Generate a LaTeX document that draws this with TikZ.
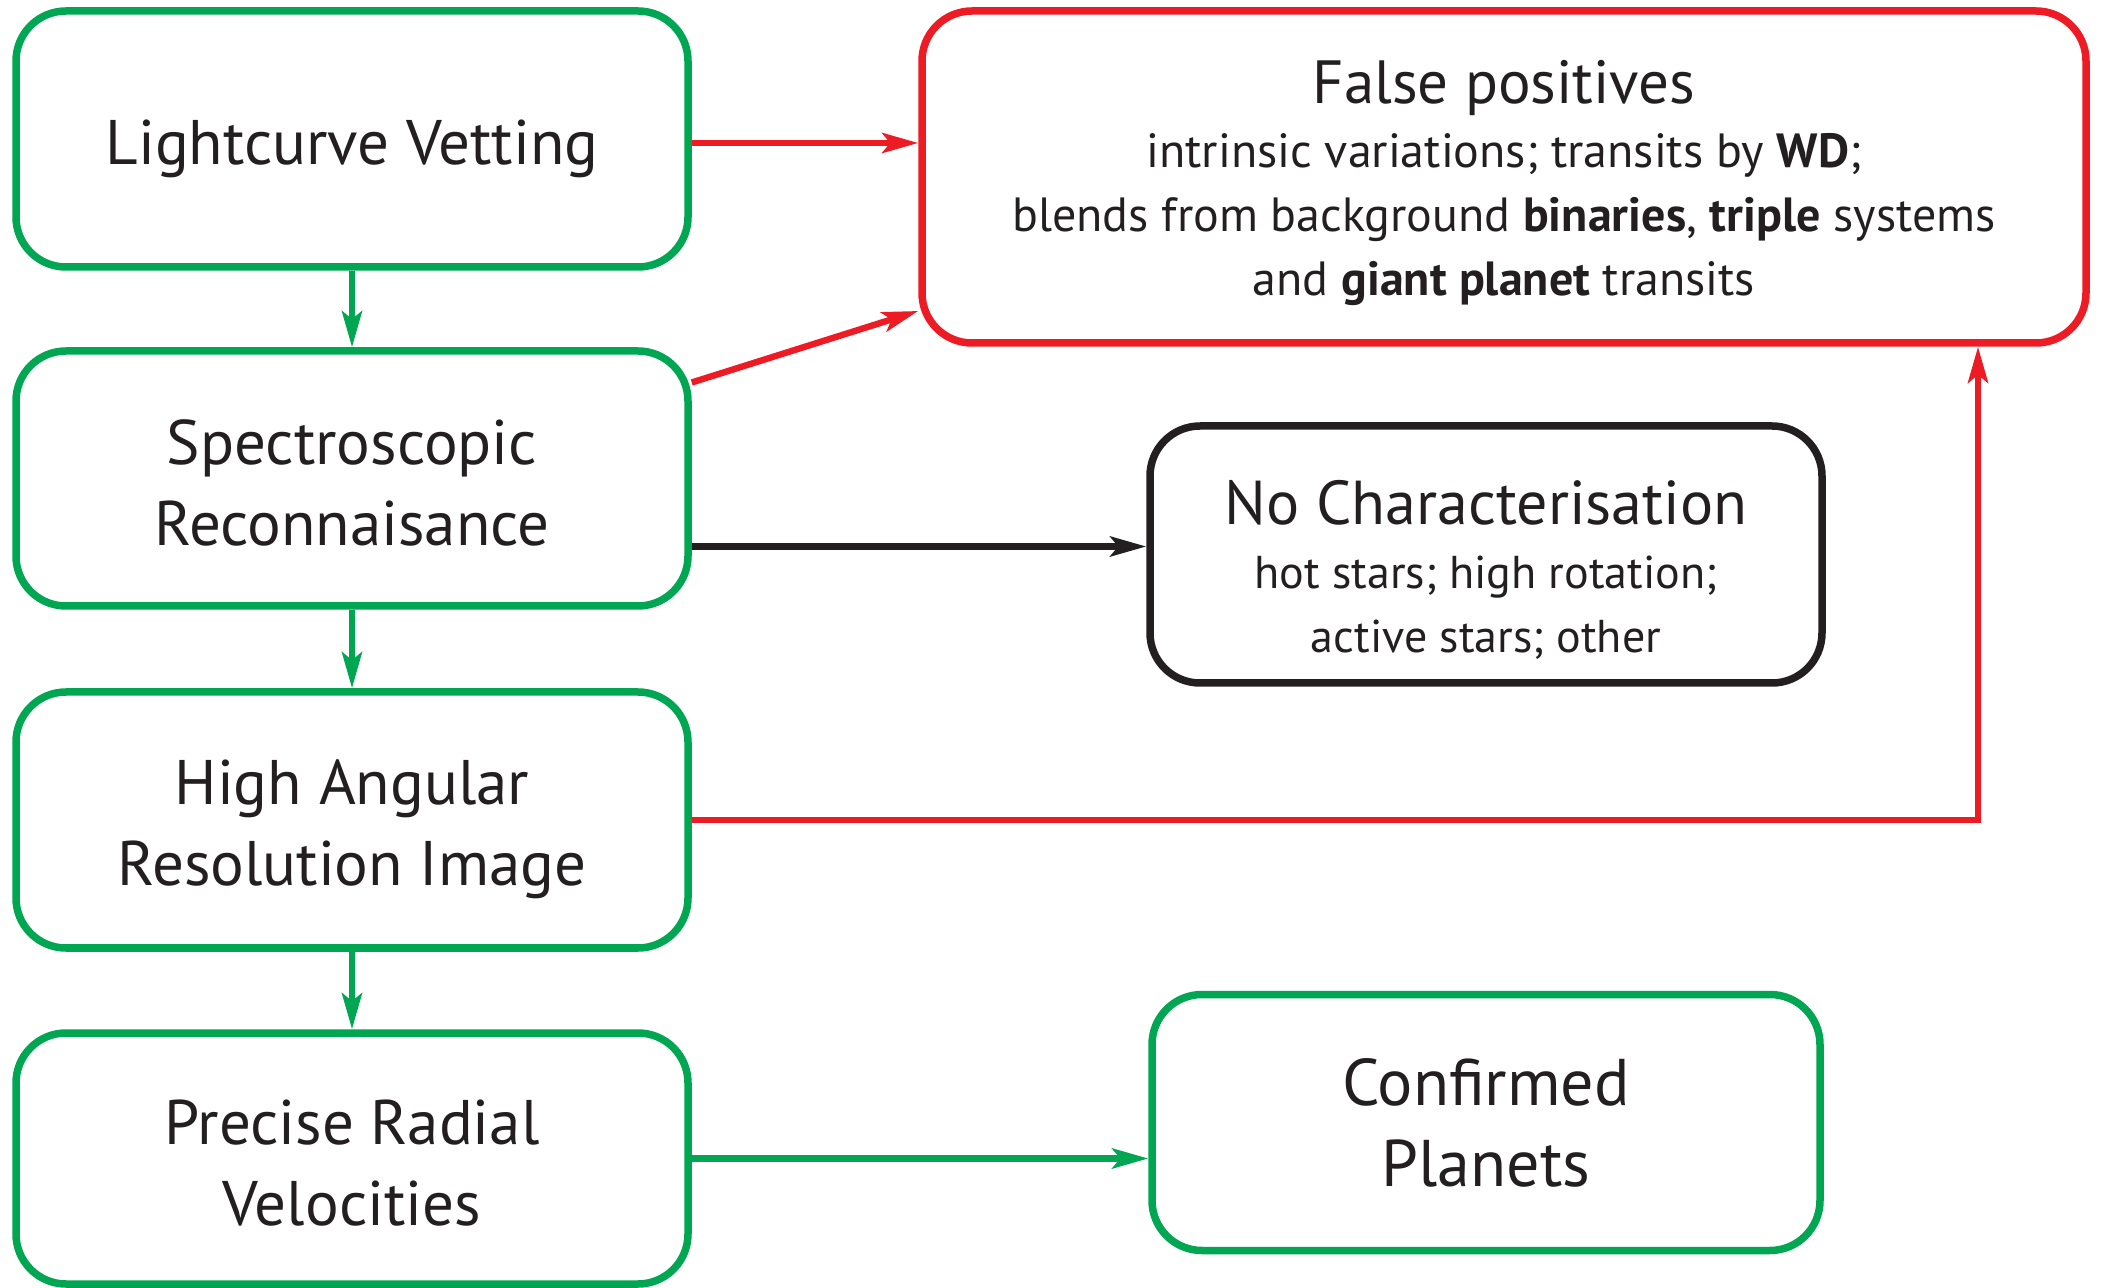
\documentclass[tikz,border=0pt]{standalone}
\usepackage{fontspec}
\setmainfont{PT Sans}
\usetikzlibrary{arrows.meta}
\definecolor{mygreen}{RGB}{0,166,81}
\definecolor{myred}{RGB}{237,28,36}
\definecolor{myblack}{RGB}{35,31,32}
\newcommand{\topstrut}[1]{\rule{0pt}{#1}}
\tikzset{
  box/.style={draw, line width=3.75pt, rounded corners=25pt, align=center, inner sep=0pt, text=myblack},
  gbox/.style={box, draw=mygreen, minimum width=336pt, minimum height=128pt, font=\fontsize{31.5}{40.5}\selectfont},
  conn/.style={line width=3.2pt, -{Stealth[length=18pt,width=10pt,inset=4pt]}},
  gconn/.style={conn, draw=mygreen},
  rconn/.style={conn, draw=myred},
  kconn/.style={conn, draw=myblack},
}
\begin{document}
\begin{tikzpicture}[x=0.5pt,y=-0.5pt]
\useasboundingbox (0,0) rectangle (2101,1288);
\node[gbox] (b1) at (352,139) {\topstrut{32pt}Lightcurve Vetting};
\node[gbox, minimum height=127.5pt] (b2) at (352,478.5) {\topstrut{27pt}Spectroscopic\\Reconnaisance};
\node[gbox] (b3) at (352,820) {\topstrut{32pt}High Angular\\Resolution Image};
\node[gbox, minimum height=125.5pt] (b4) at (352,1158.5) {\topstrut{27pt}Precise Radial\\Velocities};
\node[box, draw=myred, minimum width=582pt, minimum height=166pt, font=\fontsize{24}{32}\selectfont] (fp) at (1504,177)
  {{\fontsize{30.5}{32}\selectfont\topstrut{28pt}False positives}\\
   intrinsic variations; transits by \textbf{WD};\\
   blends from background \textbf{binaries}, \textbf{triple} systems\\
   and \textbf{giant planet} transits};
\node[box, draw=myblack, minimum width=336pt, minimum height=128.5pt, font=\fontsize{23}{32}\selectfont] (nc) at (1486,554.5)
  {{\fontsize{31}{32}\selectfont\topstrut{37pt}No Characterisation}\\
   hot stars; high rotation;\\
   active stars; other};
\node[gbox, minimum width=334pt, font=\fontsize{33}{40.5}\selectfont] (cp) at (1486,1122.5) {Confirmed\\Planets};
\draw[gconn] (b1.south) -- (b2.north);
\draw[gconn] (b2.south) -- (b3.north);
\draw[gconn] (b3.south) -- (b4.north);
\draw[rconn] ([yshift=-2pt]b1.east) -- ([yshift=-2pt]b1.east -| fp.west);
\draw[rconn] ([yshift=48pt]b2.east) -- ([yshift=-67pt]fp.west);
\draw[kconn] ([yshift=-34pt]b2.east) -- ([yshift=-34pt]b2.east -| nc.west);
\draw[rconn] (b3.east) -| ([xshift=237pt]fp.south);
\draw[gconn] (b4.east) -- (b4.east -| cp.west);
\end{tikzpicture}
\end{document}
